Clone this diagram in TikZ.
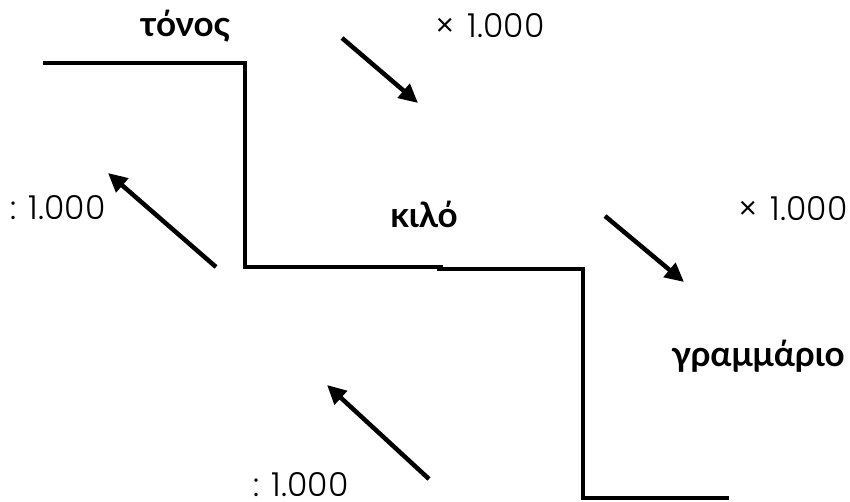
\documentclass[tikz,border=0pt]{standalone}
\usepackage{fontspec}
\usetikzlibrary{arrows.meta}
\newfontfamily\numfont{Poppins Light}
\newfontfamily\grkfont{Lato}
\begin{document}
\begin{tikzpicture}[x=1pt,y=-1pt,
  stair/.style={line width=4.5pt, line cap=rect, line join=miter},
  conv/.style={line width=4.5pt, -{Triangle[length=19pt,width=18pt]}},
  unit/.style={font=\grkfont\bfseries\fontsize{35}{40}\selectfont, inner sep=0pt, anchor=base},
  factor/.style={font=\numfont\fontsize{33}{38}\selectfont, inner sep=0pt, anchor=base, text depth=0pt}]
\useasboundingbox (0,0) rectangle (850,502);
% staircase
\coordinate (s1) at (45,63);
\coordinate (s2) at (245,63);
\coordinate (s3) at (245,267);
\coordinate (s4) at (441,267);
\coordinate (s5) at (439,269);
\coordinate (s6) at (583,269);
\coordinate (s7) at (583,498);
\coordinate (s8) at (727,498);
\draw[stair] (s1) -- (s2) -- (s3) -- (s4);
\draw[stair] (s5) -- (s6) -- (s7) -- (s8);
% labels
\node[unit] (tonos) at (185,37) {τόνος};
\node[unit] (kilo) at (424,228) {κιλό};
\node[unit] (gramm) at (758,366) {γραμμάριο};
\node[factor] (f1) at (490,38) {×\hspace{4pt} 1.000};
\node[factor] (f2) at (793,221) {×\hspace{4pt} 1.000};
\node[factor] (f3) at (58,220) {: 1.000};
\node[factor] (f4) at (301,496) {: 1.000};
% arrows
\coordinate (a1s) at (342,38);  \coordinate (a1e) at (418,103);
\coordinate (a2s) at (216,267); \coordinate (a2e) at (108,173);
\coordinate (a3s) at (605,216); \coordinate (a3e) at (684,282);
\coordinate (a4s) at (429,479); \coordinate (a4e) at (327,385);
\draw[conv] (a1s) -- (a1e);
\draw[conv] (a2s) -- (a2e);
\draw[conv] (a3s) -- (a3e);
\draw[conv] (a4s) -- (a4e);
\end{tikzpicture}
\end{document}
